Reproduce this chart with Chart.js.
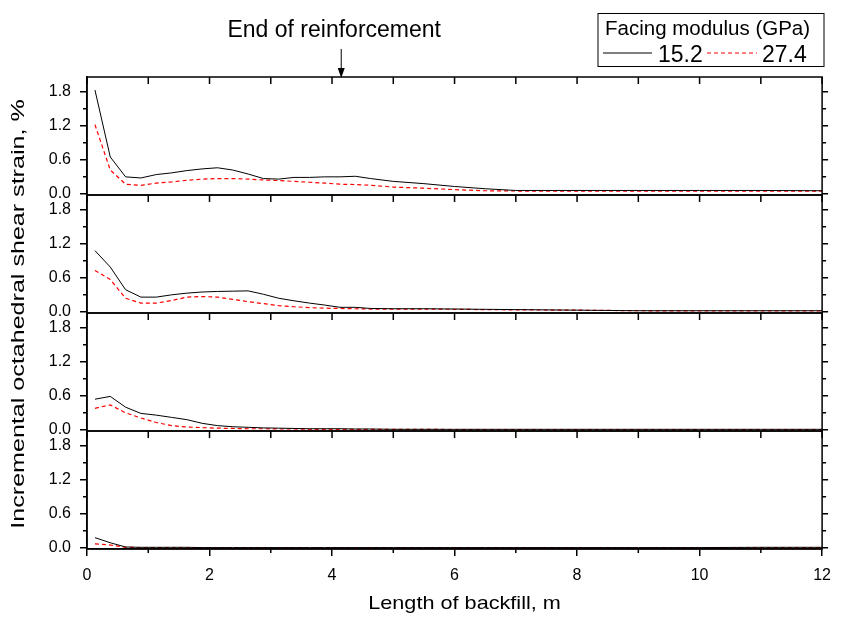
<!DOCTYPE html>
<html>
<head>
<meta charset="utf-8">
<title>Incremental octahedral shear strain</title>
<script src="https://cdn.jsdelivr.net/npm/chart.js@4"></script>
<style>
    html, body { margin: 0; padding: 0; background: #fff; }
    #chart-container { position: relative; width: 841px; height: 617px; }
</style>
</head>
<body>
<div id="chart-container"><canvas id="strainChart" width="841" height="617"></canvas></div>
<script>
// --- Data ---
const xPositions = [0.13, 0.38, 0.63, 0.88, 1.13, 1.38, 1.63, 1.88, 2.13, 2.38, 2.63, 2.88, 3.13, 3.38, 3.63, 3.88, 4.13, 4.38, 4.63, 5.0, 5.5, 6.0, 6.5, 7.0, 8.0, 9.0, 10.0, 11.0, 12.0];

// facing modulus 15.2 GPa (solid black) / 27.4 GPa (dashed red), panels top to bottom
const panel1Soft = [1.83, 0.65, 0.30, 0.28, 0.34, 0.37, 0.41, 0.44, 0.46, 0.42, 0.35, 0.27, 0.26, 0.29, 0.29, 0.30, 0.30, 0.31, 0.27, 0.22, 0.18, 0.13, 0.09, 0.06, 0.06, 0.06, 0.06, 0.06, 0.055];
const panel1Stiff = [1.22, 0.42, 0.17, 0.15, 0.19, 0.21, 0.24, 0.26, 0.27, 0.27, 0.26, 0.245, 0.235, 0.22, 0.205, 0.19, 0.17, 0.165, 0.15, 0.12, 0.10, 0.075, 0.055, 0.05, 0.05, 0.05, 0.05, 0.05, 0.05];
const panel2Soft = [1.08, 0.79, 0.39, 0.26, 0.26, 0.30, 0.33, 0.35, 0.36, 0.365, 0.37, 0.31, 0.24, 0.195, 0.155, 0.12, 0.08, 0.08, 0.06, 0.055, 0.055, 0.05, 0.045, 0.04, 0.03, 0.02, 0.02, 0.02, 0.02];
const panel2Stiff = [0.73, 0.57, 0.24, 0.155, 0.155, 0.20, 0.26, 0.27, 0.26, 0.22, 0.18, 0.145, 0.11, 0.09, 0.075, 0.065, 0.06, 0.055, 0.05, 0.05, 0.05, 0.045, 0.04, 0.035, 0.03, 0.02, 0.015, 0.015, 0.015];
const panel3Soft = [0.54, 0.59, 0.40, 0.29, 0.26, 0.22, 0.18, 0.115, 0.075, 0.055, 0.045, 0.035, 0.03, 0.025, 0.02, 0.02, 0.02, 0.015, 0.015, 0.01, 0.01, 0.01, 0.01, 0.01, 0.01, 0.01, 0.01, 0.01, 0.01];
const panel3Stiff = [0.38, 0.44, 0.30, 0.21, 0.13, 0.075, 0.05, 0.04, 0.03, 0.025, 0.02, 0.02, 0.015, 0.015, 0.01, 0.01, 0.01, 0.01, 0.01, 0.01, 0.01, 0.005, 0.005, 0.005, 0.005, 0.005, 0.005, 0.005, 0.005];
const panel4Soft = [0.18, 0.09, 0.015, 0.01, 0.01, 0.01, 0.01, 0.005, 0.005, 0.005, 0.005, 0.005, 0.005, 0.005, 0.005, 0.005, 0.005, 0.005, 0.005, 0.005, 0.005, 0.005, 0.005, 0.005, 0.005, 0.005, 0.005, 0.01, 0.01];
const panel4Stiff = [0.07, 0.05, 0.01, 0.005, 0.005, 0.005, 0.005, 0.003, 0.003, 0.003, 0.003, 0.003, 0.003, 0.003, 0.003, 0.003, 0.003, 0.003, 0.003, 0.003, 0.003, 0.003, 0.003, 0.003, 0.003, 0.003, 0.003, 0.003, 0.003];

const seriesLabels = ['15.2', '27.4'];
const xTickValues = [0, 2, 4, 6, 8, 10, 12];
const xTickLabels = ['0', '2', '4', '6', '8', '10', '12'];
const xMinorValues = [1, 3, 5, 7, 9, 11];
const yTickValues = [0, 0.6, 1.2, 1.8];
const yTickLabels = ['0.0', '0.6', '1.2', '1.8'];
const yMinorValues = [0.3, 0.9, 1.5];
const reinforcementEnd = 4.15;

const panelIds = ['y1', 'y2', 'y3', 'y4'];
const panelSeries = [
    [panel1Soft, panel1Stiff],
    [panel2Soft, panel2Stiff],
    [panel3Soft, panel3Stiff],
    [panel4Soft, panel4Stiff]
];

const FONT = '"Liberation Sans", Arial, sans-serif';
Chart.defaults.font.family = FONT;
Chart.defaults.color = '#000';

function toPoints(values) {
    return values.map((v, i) => ({ x: xPositions[i], y: v }));
}

// --- Build datasets, two per panel ---
const datasets = [];
panelSeries.forEach((pair, p) => {
    datasets.push({
        label: seriesLabels[0],
        data: toPoints(pair[0]),
        yAxisID: panelIds[p],
        borderColor: '#000',
        borderWidth: 1,
        pointRadius: 0,
        tension: 0
    });
    datasets.push({
        label: seriesLabels[1],
        data: toPoints(pair[1]),
        yAxisID: panelIds[p],
        borderColor: '#ff0000',
        borderWidth: 1.2,
        borderDash: [4, 3],
        pointRadius: 0,
        tension: 0
    });
});

// --- One stacked y axis per panel ---
function panelAxis(order) {
    return {
        type: 'linear',
        position: 'left',
        stack: 'panels',
        stackWeight: 1,
        weight: order,
        min: -0.02,
        max: 2.06,
        bounds: 'data',
        afterBuildTicks: scale => { scale.ticks = yTickValues.map(v => ({ value: v })); },
        afterFit: scale => { scale.width = 49; },
        ticks: {
            callback: (value, index) => yTickLabels[index],
            font: { size: 16 },
            color: '#000',
            padding: 9
        },
        grid: { drawOnChartArea: false, tickLength: 7, color: '#000', lineWidth: 1.5 },
        border: { color: '#000', width: 1.5 }
    };
}

// stretched text, the figure's lettering is wider than plain Arial
function stretchedText(ctx, text, x, y, size, sx, angle) {
    ctx.save();
    ctx.translate(x, y);
    if (angle) ctx.rotate(angle);
    ctx.scale(sx, 1);
    ctx.font = size + 'px ' + FONT;
    ctx.textAlign = 'center';
    ctx.textBaseline = 'middle';
    ctx.fillText(text, 0, 0);
    ctx.restore();
}

// --- Frame, minor ticks, titles, annotation and legend ---
const framePlugin = {
    id: 'panelFrame',
    afterDraw(chart) {
        const ctx = chart.ctx;
        const xs = chart.scales.x;
        const area = chart.chartArea;
        ctx.save();
        ctx.strokeStyle = '#000';
        ctx.lineWidth = 1.5;

        panelIds.forEach((id, i) => {
            const ys = chart.scales[id];
            ctx.strokeRect(area.left, ys.top, area.right - area.left, ys.bottom - ys.top);

            ctx.beginPath();
            // minor ticks, left side (outward)
            yMinorValues.forEach(v => {
                const py = ys.getPixelForValue(v);
                ctx.moveTo(area.left - 4, py); ctx.lineTo(area.left, py);
            });
            // right side ticks (outward)
            yTickValues.forEach(v => {
                const py = ys.getPixelForValue(v);
                ctx.moveTo(area.right, py); ctx.lineTo(area.right + 6, py);
            });
            yMinorValues.forEach(v => {
                const py = ys.getPixelForValue(v);
                ctx.moveTo(area.right, py); ctx.lineTo(area.right + 4, py);
            });
            // x ticks pointing down from the top frame of the first panel
            if (i === 0) {
                xTickValues.concat(xMinorValues).forEach(v => {
                    const px = xs.getPixelForValue(v);
                    ctx.moveTo(px, ys.top); ctx.lineTo(px, ys.top + 7);
                });
            }
            // x ticks from each panel's bottom line
            if (i < panelIds.length - 1) {
                xTickValues.concat(xMinorValues).forEach(v => {
                    const px = xs.getPixelForValue(v);
                    ctx.moveTo(px, ys.bottom); ctx.lineTo(px, ys.bottom + 7);
                });
            } else {
                xMinorValues.forEach(v => {
                    const px = xs.getPixelForValue(v);
                    ctx.moveTo(px, ys.bottom); ctx.lineTo(px, ys.bottom + 4);
                });
            }
            ctx.stroke();
        });

        ctx.fillStyle = '#000';
        // axis titles
        stretchedText(ctx, 'Incremental octahedral shear strain, %', 19, (area.top + area.bottom) / 2 + 1, 19, 1.32, -Math.PI / 2);
        stretchedText(ctx, 'Length of backfill, m', (area.left + area.right) / 2 + 10, 604, 19, 1.14, 0);

        // end of reinforcement marker
        const ax = xs.getPixelForValue(reinforcementEnd);
        ctx.font = '23px ' + FONT;
        ctx.textAlign = 'center';
        ctx.textBaseline = 'alphabetic';
        ctx.fillText('End of reinforcement', ax - 7, 37);
        ctx.lineWidth = 1;
        ctx.beginPath();
        ctx.moveTo(ax, 49); ctx.lineTo(ax, 70);
        ctx.stroke();
        ctx.beginPath();
        ctx.moveTo(ax - 3.5, 68); ctx.lineTo(ax + 3.5, 68); ctx.lineTo(ax, 78);
        ctx.closePath();
        ctx.fill();

        // legend box
        ctx.lineWidth = 1;
        ctx.strokeRect(598, 13.5, 226, 53);
        ctx.textAlign = 'left';
        ctx.font = '20.5px ' + FONT;
        ctx.fillText('Facing modulus (GPa)', 605, 35);
        ctx.font = '23px ' + FONT;
        ctx.beginPath();
        ctx.strokeStyle = datasets[0].borderColor;
        ctx.moveTo(603, 53); ctx.lineTo(652, 53);
        ctx.stroke();
        ctx.fillText(datasets[0].label, 658, 62);
        ctx.beginPath();
        ctx.strokeStyle = datasets[1].borderColor;
        ctx.setLineDash(datasets[1].borderDash);
        ctx.moveTo(707, 53); ctx.lineTo(757, 53);
        ctx.stroke();
        ctx.setLineDash([]);
        ctx.fillText(datasets[1].label, 762, 62);
        ctx.restore();
    }
};

const chartCanvas = document.getElementById('strainChart');
new Chart(chartCanvas.getContext('2d'), {
    type: 'line',
    data: { datasets: datasets },
    options: {
        responsive: false,
        animation: false,
        devicePixelRatio: 1,
        layout: { padding: { left: 38, right: 13, top: 77, bottom: 0 } },
        scales: {
            x: {
                type: 'linear',
                position: 'bottom',
                min: 0,
                max: 12,
                afterBuildTicks: scale => { scale.ticks = xTickValues.map(v => ({ value: v })); },
                afterFit: scale => { scale.height = 68; },
                ticks: {
                    callback: (value, index) => xTickLabels[index],
                    font: { size: 16 },
                    color: '#000',
                    padding: 10,
                    maxRotation: 0,
                    autoSkip: false
                },
                grid: { drawOnChartArea: false, tickLength: 7, color: '#000', lineWidth: 1.5 },
                border: { color: '#000', width: 1.5 },
                title: { display: false }
            },
            y1: panelAxis(4),
            y2: panelAxis(3),
            y3: panelAxis(2),
            y4: panelAxis(1)
        },
        plugins: {
            legend: { display: false },
            tooltip: { enabled: false }
        }
    },
    plugins: [framePlugin]
});
</script>
</body>
</html>
